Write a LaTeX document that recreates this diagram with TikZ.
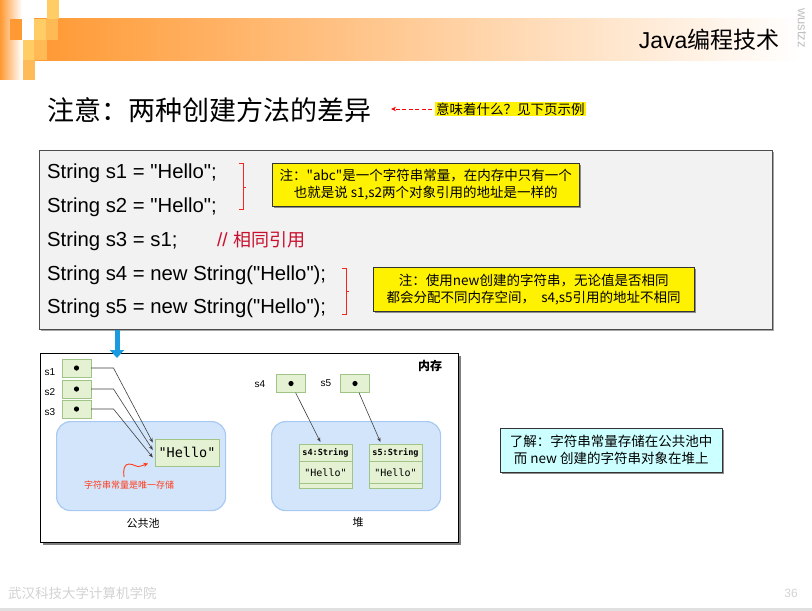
\documentclass[tikz,border=0pt]{standalone}
\usepackage{fontspec}
\setmainfont{Liberation Sans}[Ligatures=TeXOff]
\newfontfamily\cjk{Noto Sans CJK SC}[Ligatures=TeXOff]
\newfontfamily\mono{DejaVu Sans Mono}
\usetikzlibrary{arrows.meta}

\definecolor{barorange}{HTML}{FF9933}
\definecolor{sqlight}{HTML}{FFCC66}
\definecolor{sqmid}{HTML}{FFB955}
\definecolor{codebg}{HTML}{F2F2F2}
\definecolor{bracketred}{HTML}{F0281E}
\definecolor{commentred}{HTML}{C8102E}
\definecolor{cellgreen}{HTML}{E4F1D2}
\definecolor{cellborder}{HTML}{9FC486}
\definecolor{poolfill}{HTML}{D3E5FB}
\definecolor{poolborder}{HTML}{A8CAF2}
\definecolor{arrowblue}{HTML}{1A9BE0}
\definecolor{notecyan}{HTML}{CCFFFF}
\definecolor{footgray}{HTML}{D2D2D2}
\definecolor{squiggle}{HTML}{FF3B1A}

\tikzset{
  codeline/.style={anchor=base west, inner sep=0pt, font=\fontsize{20.3}{24}\selectfont},
  notebox/.style={draw=black!80, fill=yellow, anchor=north west, align=center,
                  inner sep=0pt, font=\cjk\fontsize{13.5}{17}\selectfont},
  cell/.style={draw=cellborder, fill=cellgreen, minimum width=29pt,
               minimum height=18pt, inner sep=0pt},
  dot/.style={fill=black},
  ptr/.style={draw=black!75, line width=0.6pt, -{Stealth[length=4.5pt,width=3.5pt]}},
  area/.style={draw=poolborder, fill=poolfill, line width=1.2pt, rounded corners=14pt,
               anchor=north west, minimum width=169pt, minimum height=89pt},
  varlabel/.style={font=\fontsize{10}{12}\selectfont},
  cjklabel/.style={font=\cjk\fontsize{11}{13}\selectfont},
  codebrace/.style={draw=bracketred, line width=1pt},
  shadowfill/.style={fill=black!45}
}

\begin{document}
\begin{tikzpicture}[x=1pt,y=-1pt]
\useasboundingbox (0,0) rectangle (812,611);

% ---------- header band ----------
\shade[left color=barorange, right color=white] (0,0) rectangle (22,79);
\shade[left color=barorange, right color=white] (34,18) rectangle (800,60);
\fill[barorange] (10,19) rectangle (22,40);
\fill[sqlight] (47,0) rectangle (59,19);
\fill[sqlight] (34,19) rectangle (46,40);
\fill[sqmid]   (46,19) rectangle (58,40);
\fill[sqlight] (23,40) rectangle (34,60);
\fill[sqmid]   (34,40) rectangle (47,60);
\fill[sqmid!90!sqlight] (23,60) rectangle (35,80);

\node[anchor=east, font=\fontsize{23}{26}\selectfont] (title) at (783,40)
  {Java\cjk 编程技术};
\node[rotate=-90, text=black!25, font=\fontsize{13}{13}\selectfont] (brand) at (802,28) {wustzz};

% ---------- heading ----------
\node[anchor=west, inner sep=0pt, font=\cjk\fontsize{27}{30}\selectfont] (head) at (47,110)
  {注意：两种创建方法的差异};
\node[anchor=west, fill=yellow, inner sep=1pt, font=\cjk\fontsize{13.5}{15}\selectfont] (hint)
  at (435,109) {意味着什么？见下页示例};
\coordinate (hinttip) at (391,109);
\draw[red, dashed, dash pattern=on 4pt off 2.5pt, line width=0.8pt,
      -{Stealth[length=5pt,width=4.5pt]}] ([xshift=-3pt]hint.west) -- (hinttip);

% ---------- code listing ----------
\fill[black!35] (41,152) rectangle (774,331);
\node[draw=black!70, fill=codebg, line width=0.8pt, anchor=north west, inner sep=0pt,
      minimum width=733pt, minimum height=179pt] (code) at (39,150) {};

\node[codeline] (l1) at (47,178) {String s1 = "Hello";};
\node[codeline] (l2) at (47,212) {String s2 = "Hello";};
\node[codeline] (l3) at (47,246) {String s3 = s1;};
\node[codeline] (l4) at (47,280) {String s4 = new String("Hello");};
\node[codeline] (l5) at (47,313) {String s5 = new String("Hello");};
\node[anchor=base west, inner sep=0pt, text=commentred, font=\fontsize{19}{22}\selectfont] (cmt)
  at (217,246) {// {\cjk\fontsize{18}{22}\selectfont 相同引用}};

% brackets grouping the listing lines
\draw[codebrace] (239,163) -- (243,163) -- (243,209) -- (239,209);
\draw[codebrace] (243,187) -- (246,187);
\draw[codebrace] (342,268) -- (346,268) -- (346,314) -- (342,314);
\draw[codebrace] (346,291) -- (349,291);

% notes
\fill[shadowfill] (274,165) rectangle (581,208);
\node[notebox, minimum width=307pt, minimum height=43pt] (note1) at (272,163)
  {注："abc"是一个字符串常量，在内存中只有一个\\也就是说 s1,s2两个对象引用的地址是一样的};
\fill[shadowfill] (375,269) rectangle (696,313);
\node[notebox, minimum width=321pt, minimum height=44pt] (note2) at (373,267)
  {注：使用new创建的字符串，无论值是否相同\\都会分配不同内存空间，\ \ s4,s5引用的地址不相同};

% ---------- memory diagram ----------
\fill[black!50] (43,356) rectangle (461,545);
\node[draw=black, fill=white, line width=0.8pt, anchor=north west, inner sep=0pt,
      minimum width=418pt, minimum height=189pt] (mem) at (40,353) {};
\node[font=\cjk\bfseries\fontsize{12}{14}\selectfont] (memlabel) at (430,366) {内存};

% arrow from listing to diagram
\coordinate (flowtop) at (117,330);
\coordinate (flowtip) at (117,358);
\draw[arrowblue, line width=5pt, -{Triangle[length=8pt,width=14pt]}] (flowtop) -- (flowtip);

% constant pool
\node[area] (pool) at (56,421) {};
\node[cjklabel] (poolname) at (143,523) {公共池};

\node[cell] (c1) at (76.5,368) {};
\node[cell] (c2) at (76.5,389) {};
\node[cell] (c3) at (76.5,409) {};
\fill[dot] (c1) circle (2.6);
\fill[dot] (c2) circle (2.6);
\fill[dot] (c3) circle (2.6);
\node[varlabel] (n1) at (50,372) {s1};
\node[varlabel] (n2) at (50,392) {s2};
\node[varlabel] (n3) at (50,412) {s3};

\node[cell, minimum width=64pt, minimum height=27pt, font=\mono\fontsize{13.5}{16}\selectfont]
  (hello) at (187,452.5) {"Hello"};

\draw[ptr] (c1) -- ++(37,0) -- ([xshift=-2pt,yshift=10pt]hello.west);
\draw[ptr] (c2) -- ++(37,0) -- ([xshift=-2pt,yshift=2.5pt]hello.west);
\draw[ptr] (c3) -- ++(37,0) -- ([xshift=-2pt,yshift=-5pt]hello.west);

\node[text=squiggle, font=\cjk\fontsize{9}{11}\selectfont] (uniq) at (129,485)
  {字符串常量是唯一存储};
\coordinate (sqstart) at (124,477);
\coordinate (sqend) at (148,463.5);
\draw[squiggle, line width=0.9pt, -{Stealth[length=4.5pt,width=4.5pt]}]
  (sqstart) .. controls (123,470) and (124,464) .. (129,464)
  .. controls (134,464) and (137,468) .. (141,466) -- (sqend);

% heap
\node[area, minimum width=169pt] (heap) at (271,421) {};
\node[cjklabel] (heapname) at (358,522) {堆};

\node[cell] (c4) at (291,383.5) {};
\node[cell] (c5) at (355,383.5) {};
\fill[dot] (c4) circle (2.6);
\fill[dot] (c5) circle (2.6);
\node[varlabel] (n4) at (260,384) {s4};
\node[varlabel] (n5) at (326,383) {s5};

\node[draw=cellborder, fill=cellgreen, line width=0.8pt, anchor=north west, inner sep=0pt,
      minimum width=53pt, minimum height=44pt] (obj4) at (299,444) {};
\node[draw=cellborder, fill=cellgreen, line width=0.8pt, anchor=north west, inner sep=0pt,
      minimum width=53pt, minimum height=44pt] (obj5) at (369,444) {};
\draw[cellborder, line width=0.8pt] (299,461) -- (352,461) (299,483) -- (352,483);
\draw[cellborder, line width=0.8pt] (369,461) -- (422,461) (369,483) -- (422,483);
\node[font=\mono\bfseries\fontsize{8.5}{10}\selectfont] (t4) at (325.5,452.5) {s4:String};
\node[font=\mono\bfseries\fontsize{8.5}{10}\selectfont] (t5) at (395.5,452.5) {s5:String};
\node[font=\mono\fontsize{10}{12}\selectfont] (v4) at (325.5,472.5) {"Hello"};
\node[font=\mono\fontsize{10}{12}\selectfont] (v5) at (395.5,472.5) {"Hello"};

\draw[ptr] (c4) -- ([xshift=-5.5pt,yshift=2pt]obj4.north);
\draw[ptr] (c5) -- ([xshift=-15.5pt,yshift=2pt]obj5.north);

% summary note
\fill[shadowfill] (502,430) rectangle (724,474);
\node[notebox, fill=notecyan, minimum width=222pt, minimum height=44pt] (note3) at (500,428)
  {了解：字符串常量存储在公共池中\\而 new 创建的字符串对象在堆上};

% ---------- footer ----------
\node[anchor=west, text=footgray, inner sep=0pt, font=\cjk\fontsize{13.5}{15}\selectfont] (foot)
  at (8,593) {武汉科技大学计算机学院};
\node[anchor=east, text=footgray, inner sep=0pt, font=\fontsize{12}{14}\selectfont] (pagenum)
  at (798,593) {36};
\fill[black!12] (0,608) rectangle (812,611);
\end{tikzpicture}
\end{document}
